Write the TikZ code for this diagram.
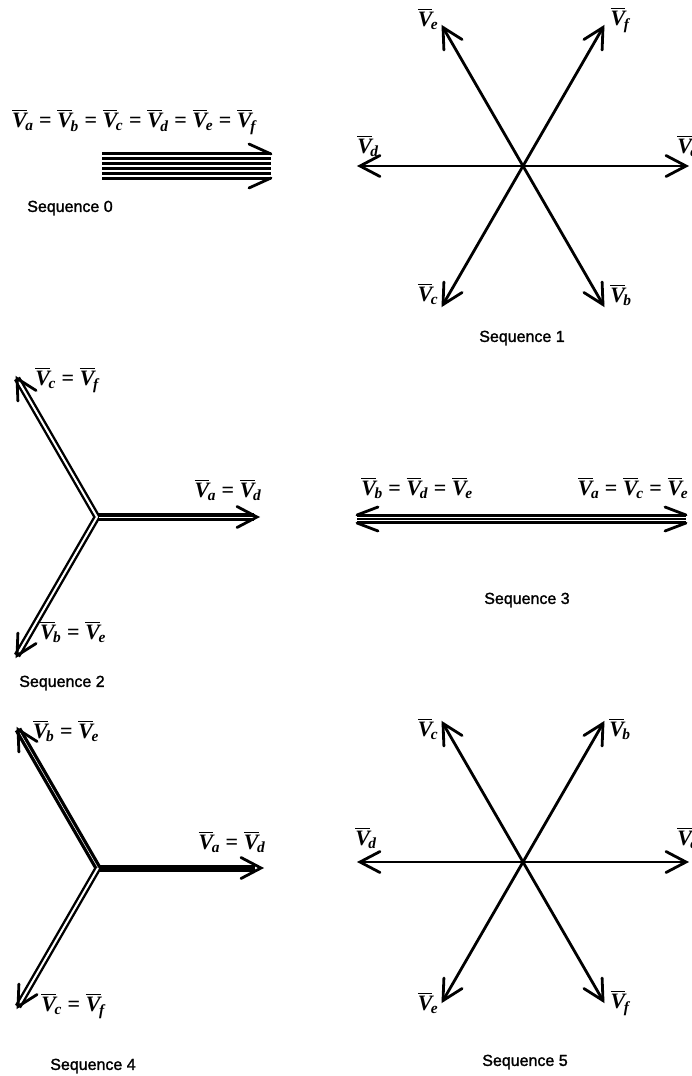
\documentclass[tikz,border=0pt]{standalone}
\usepackage{fontspec}
\usepackage{amsmath}
\setmainfont{Liberation Serif}
\newfontfamily\seqfont[FakeBold=1.6]{Liberation Sans}
\usetikzlibrary{calc}
\newcommand{\V}[1]{$\overline{\text{\bfseries\itshape V}}\kern-1.5pt_{\text{\bfseries\itshape #1}}$}
\newcommand{\eqs}{\hspace{0.26em}\textbf{=}\hspace{0.26em}}
\tikzset{
  vec/.style={line width=2.8pt},
  head/.style={line width=2.8pt, line cap=round, line join=miter},
  bund/.style={line width=3.2pt},
  lab/.style={inner sep=0pt, font=\fontsize{22}{26}\selectfont},
  seq/.style={inner sep=0pt, font=\seqfont\fontsize{16}{19}\selectfont},
  dbl/.style={line width=2.4pt, double=white, double distance=2pt},
  dbltight/.style={line width=3.3pt, double=white, double distance=0.5pt},
  chev/.pic={\draw[head] (-20,10.5) -- (0,0) -- (-20,-10.5);}
}
\begin{document}
\begin{tikzpicture}[x=1pt,y=1pt]
\useasboundingbox (0,0) rectangle (692,-1076);

% ---------------- Sequence 0
\node[lab] (l0) at (134,-122) {\V{a}\eqs\V{b}\eqs\V{c}\eqs\V{d}\eqs\V{e}\eqs\V{f}};
\coordinate (s0l) at (102,-166);
\coordinate (s0r) at (271,-166);
\foreach \k in {-12.5,-7.5,-2.5,2.5,7.5,12.5}
  \draw[bund] ([yshift=\k]s0l) -- ([yshift=\k]s0r);
\draw[head] ([shift={(-22,22)}]s0r) -- ([shift={(0,12)}]s0r);
\draw[head] ([shift={(-22,-22)}]s0r) -- ([shift={(0,-12)}]s0r);
\node[seq] (q0) at (70,-208) {Sequence 0};

% ---------------- Sequence 1
\coordinate (c1) at (523,-166);
\coordinate (c1a) at ([shift={(0:163)}]c1);
\coordinate (c1f) at ([shift={(60:160)}]c1);
\coordinate (c1e) at ([shift={(120:160)}]c1);
\coordinate (c1d) at ([shift={(180:163)}]c1);
\coordinate (c1c) at ([shift={(240:160)}]c1);
\coordinate (c1b) at ([shift={(300:160)}]c1);
\foreach \t/\ang in {c1a/0,c1f/60,c1e/120,c1d/180,c1c/240,c1b/300}{
  \draw[vec] (c1) -- (\t);
  \pic[rotate=\ang] at (\t) {chev};
}
\node[lab] (n1e) at (428,-19) {\V{e}};
\node[lab] (n1f) at (620,-20) {\V{f}};
\node[lab] (n1d) at (368,-146) {\V{d}};
\node[lab] (n1a) at (688,-146) {\V{a}};
\node[lab] (n1c) at (428,-294) {\V{c}};
\node[lab] (n1b) at (621,-295) {\V{b}};
\node[seq] (q1) at (522,-338) {Sequence 1};

% ---------------- Sequence 2
\coordinate (c2) at (97,-517);
\coordinate (c2a) at ([shift={(0:160)}]c2);
\coordinate (c2c) at ([shift={(120:160)}]c2);
\coordinate (c2b) at ([shift={(240:160)}]c2);
\draw[dbl] (c2c) -- (c2) -- (c2b);
\draw[dbltight] ([xshift=2pt]c2) -- ([xshift=-3pt]c2a);
\pic[rotate=0] at (c2a) {chev};
\pic[rotate=120] at (c2c) {chev};
\pic[rotate=240] at (c2b) {chev};
\node[lab] (n2c) at (67,-380) {\V{c}\eqs\V{f}};
\node[lab] (n2a) at (228,-490) {\V{a}\eqs\V{d}};
\node[lab] (n2b) at (73,-632) {\V{b}\eqs\V{e}};
\node[seq] (q2) at (62,-683) {Sequence 2};

% ---------------- Sequence 3
\coordinate (s3l) at (357,-519);
\coordinate (s3r) at (686,-519);
\foreach \k in {-3.8,0,3.8}
  \draw[line width=2.7pt] ([yshift=\k]s3l) -- ([yshift=\k]s3r);
\draw[head] ([shift={(21,12)}]s3l) -- ([shift={(0,4)}]s3l);
\draw[head] ([shift={(21,-12)}]s3l) -- ([shift={(0,-4)}]s3l);
\draw[head] ([shift={(-21,12)}]s3r) -- ([shift={(0,4)}]s3r);
\draw[head] ([shift={(-21,-12)}]s3r) -- ([shift={(0,-4)}]s3r);
\node[lab] (n3l) at (417,-488) {\V{b}\eqs\V{d}\eqs\V{e}};
\node[lab] (n3r) at (633,-488) {\V{a}\eqs\V{c}\eqs\V{e}};
\node[seq] (q3) at (527,-600) {Sequence 3};

% ---------------- Sequence 4
\coordinate (c4) at (98,-868);
\coordinate (c4a) at ([shift={(0:163)}]c4);
\coordinate (c4b) at ([shift={(120:160)}]c4);
\coordinate (c4c) at ([shift={(240:160)}]c4);
\draw[dbltight] (c4b) -- (c4);
\draw[dbl] (c4) -- (c4c);
\draw[line width=7pt] ([xshift=1pt]c4) -- ([xshift=-6pt]c4a);
\pic[rotate=0] at (c4a) {chev};
\pic[rotate=120] at (c4b) {chev};
\pic[rotate=240] at (c4c) {chev};
\node[lab] (n4b) at (66,-731) {\V{b}\eqs\V{e}};
\node[lab] (n4a) at (232,-842) {\V{a}\eqs\V{d}};
\node[lab] (n4c) at (73,-1006) {\V{c}\eqs\V{f}};
\node[seq] (q4) at (93,-1066) {Sequence 4};

% ---------------- Sequence 5
\coordinate (c5) at (523,-862);
\coordinate (c5a) at ([shift={(0:163)}]c5);
\coordinate (c5b) at ([shift={(60:160)}]c5);
\coordinate (c5c) at ([shift={(120:160)}]c5);
\coordinate (c5d) at ([shift={(180:163)}]c5);
\coordinate (c5e) at ([shift={(240:160)}]c5);
\coordinate (c5f) at ([shift={(300:160)}]c5);
\foreach \t/\ang in {c5a/0,c5b/60,c5c/120,c5d/180,c5e/240,c5f/300}{
  \draw[vec] (c5) -- (\t);
  \pic[rotate=\ang] at (\t) {chev};
}
\node[lab] (n5c) at (428,-729) {\V{c}};
\node[lab] (n5b) at (620,-729) {\V{b}};
\node[lab] (n5d) at (366,-838) {\V{d}};
\node[lab] (n5a) at (688,-838) {\V{a}};
\node[lab] (n5e) at (428,-1003) {\V{e}};
\node[lab] (n5f) at (620,-1003) {\V{f}};
\node[seq] (q5) at (525,-1062) {Sequence 5};
\end{tikzpicture}
\end{document}
